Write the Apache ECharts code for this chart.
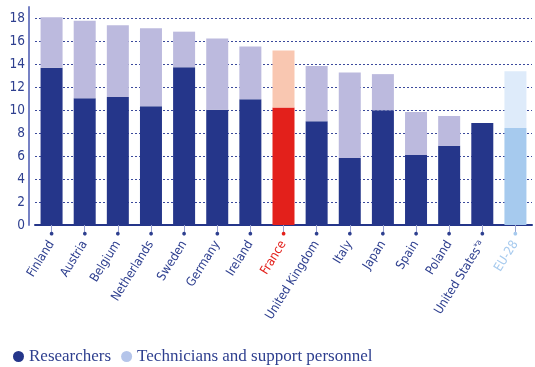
<!DOCTYPE html>
<html>
<head>
<meta charset="utf-8">
<script src="https://cdn.jsdelivr.net/npm/echarts@6/dist/echarts.min.js"></script>
<style>html,body{margin:0;padding:0;background:#fff}#c{width:535px;height:367px}</style>
</head>
<body>
<div id="c"></div>
<script>
const categories = ['Finland','Austria','Belgium','Netherlands','Sweden','Germany','Ireland','France','United Kingdom','Italy','Japan','Spain','Poland','United States*a','EU-28'];
const researchers = [13.7, 11.05, 11.15, 10.35, 13.75, 10.05, 10.95, 10.25, 9.05, 5.85, 10.0, 6.1, 6.9, 8.9, 8.45];
const technicians = [4.4, 6.75, 6.25, 6.8, 3.1, 6.2, 4.6, 4.95, 4.8, 7.45, 3.15, 3.75, 2.6, null, 4.95];
const yTicks = [0, 2, 4, 6, 8, 10, 12, 14, 16, 18];

const NAVY = '#25368a', LAV = '#bcbade', TEXT = '#2e3f8f';
const FONT = "'DejaVu Sans Condensed', 'Roboto', sans-serif";
const special = {
  'France': {res: '#e3201b', tech: '#f9c7b1', text: '#e3201b'},
  'EU-28': {res: '#a6caee', tech: '#deebfa', text: '#a6caee'}
};
function labelColor(v, i) { const c = categories[i]; return special[c] ? special[c].text : TEXT; }

const resData = researchers.map((v, i) => {
  const s = special[categories[i]];
  return s ? {value: v, itemStyle: {color: s.res}} : v;
});
const techData = technicians.map((v, i) => {
  const s = special[categories[i]];
  return s ? {value: v, itemStyle: {color: s.tech}} : v;
});

const chart = echarts.init(document.getElementById('c'));
chart.setOption({
  animation: false,
  grid: {left: 35, right: 3, top: 7, bottom: 142},
  legend: {
    left: 8, top: 343, icon: 'circle', itemWidth: 11, itemHeight: 11, itemGap: 10,
    textStyle: {fontFamily: "'Liberation Serif', serif", fontSize: 17, color: TEXT},
    data: [{name: 'Researchers', itemStyle: {color: NAVY}}, {name: 'Technicians and support personnel', itemStyle: {color: '#b5c5ea'}}]
  },
  xAxis: [{
    type: 'category', data: categories,
    axisLine: {lineStyle: {color: NAVY, width: 2}},
    axisTick: {show: false},
    axisLabel: {rotate: 58, margin: 17, interval: 0, fontFamily: FONT, fontSize: 12.5, color: labelColor,
      formatter: v => v.endsWith('*a') ? v.slice(0, -2) + '{sup|*a}' : v,
      rich: {sup: {fontFamily: FONT, fontSize: 8, color: TEXT, verticalAlign: 'top', padding: [0, 0, 5, 0]}}}
  }, {
    type: 'category', data: categories, position: 'bottom',
    axisLine: {show: false},
    axisTick: {show: true, alignWithLabel: true, length: 8, lineStyle: {color: '#9aa2d0', width: 1}},
    axisLabel: {interval: 0, formatter: () => '●', fontSize: 8.5, margin: 4, color: labelColor}
  }],
  yAxis: {
    type: 'value', min: 0, max: 19, interval: 2, offset: 6,
    axisLine: {show: true, lineStyle: {color: '#7782c4', width: 2}},
    axisTick: {show: false},
    axisLabel: {showMaxLabel: false, margin: 4, fontFamily: FONT, fontSize: 13.5, color: TEXT,
      formatter: v => yTicks.includes(v) ? String(v) : ''},
    splitLine: {show: true, showMinLine: false, showMaxLine: false, lineStyle: {color: '#3b4a9c', type: [2, 2], width: 1}}
  },
  series: [
    {name: 'Researchers', type: 'bar', stack: 't', barWidth: 22, data: resData, itemStyle: {color: NAVY}},
    {name: 'Technicians and support personnel', type: 'bar', stack: 't', barWidth: 22, data: techData, itemStyle: {color: LAV}}
  ]
});
</script>
</body>
</html>
